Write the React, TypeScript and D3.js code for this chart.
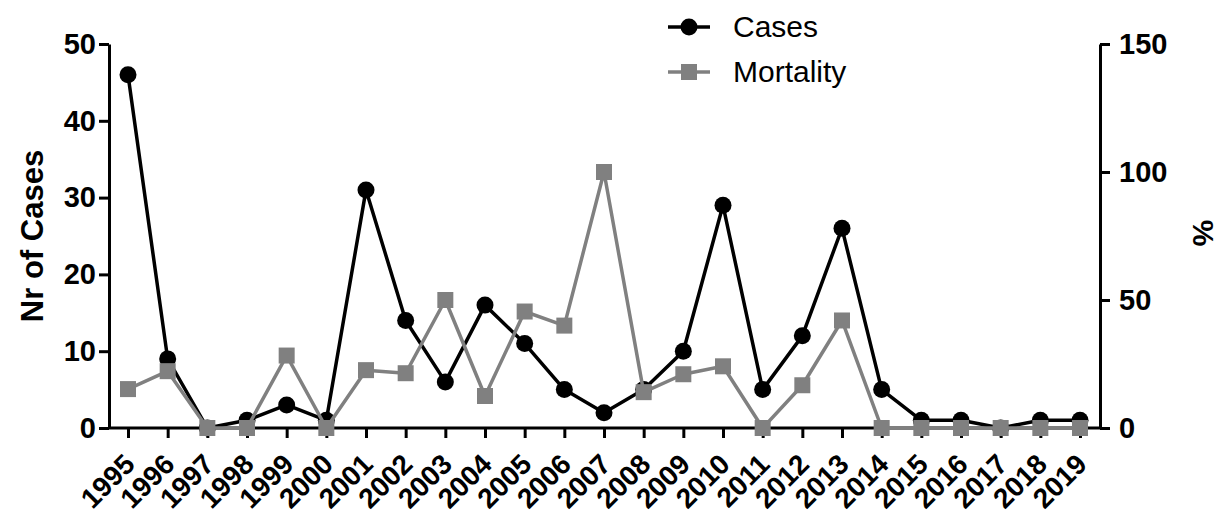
import React, { useEffect, useRef } from 'react';
import { select, scalePoint, scaleLinear, line, axisLeft, axisRight, axisBottom } from 'd3';

const years = ['1995', '1996', '1997', '1998', '1999', '2000', '2001', '2002', '2003', '2004', '2005', '2006', '2007',
  '2008', '2009', '2010', '2011', '2012', '2013', '2014', '2015', '2016', '2017', '2018', '2019'];
const cases = [46, 9, 0, 1, 3, 1, 31, 14, 6, 16, 11, 5, 2, 5, 10, 29, 5, 12, 26, 5, 1, 1, 0, 1, 1];
const mortality = [15.2, 22.2, 0, 0, 28.3, 0, 22.6, 21.4, 50, 12.5, 45.5, 40, 100, 14, 21, 24.1, 0, 16.7, 42, 0, 0, 0, 0, 0, 0];
const leftTicks = [0, 10, 20, 30, 40, 50];
const rightTicks = [0, 50, 100, 150];

const FONT = '"Liberation Sans", Arial, sans-serif';

const App = () => {
  const svgRef = useRef(null);

  useEffect(() => {
    document.body.style.margin = '0';
    const width = 1230;
    const height = 519;
    const left = 109, right = 1100, top = 44, bottom = 428;

    const svg = select(svgRef.current);
    svg.selectAll('*').remove();
    svg.attr('width', width).attr('height', height).style('font-family', FONT);

    const x = scalePoint().domain(years).range([128, 1080]);
    const yL = scaleLinear().domain([0, 50]).range([bottom, top]);
    const yR = scaleLinear().domain([0, 150]).range([bottom, top]);

    // axes
    const styleAxis = (g) => {
      g.select('.domain').attr('stroke', '#000').attr('stroke-width', 3);
      g.selectAll('.tick line').attr('stroke', '#000').attr('stroke-width', 3);
      g.selectAll('.tick text')
        .attr('fill', '#000')
        .style('font-size', '29px')
        .style('font-weight', 'bold')
        .style('font-family', FONT);
    };

    const gl = svg.append('g').attr('transform', `translate(${left},0)`)
      .call(axisLeft(yL).tickValues(leftTicks).tickSize(10).tickSizeOuter(0).tickPadding(3));
    styleAxis(gl);

    const gr = svg.append('g').attr('transform', `translate(${right},0)`)
      .call(axisRight(yR).tickValues(rightTicks).tickSize(10).tickSizeOuter(0).tickPadding(9));
    styleAxis(gr);

    const gb = svg.append('g').attr('transform', `translate(0,${bottom})`)
      .call(axisBottom(x).tickSize(10).tickSizeOuter(0));
    gb.select('.domain').remove();
    gb.selectAll('.tick line').attr('stroke', '#000').attr('stroke-width', 3);
    gb.selectAll('.tick text')
      .attr('fill', '#000')
      .style('font-size', '28px')
      .style('font-weight', 'bold')
      .style('font-family', FONT)
      .attr('text-anchor', 'end')
      .attr('x', 0)
      .attr('y', 0)
      .attr('dy', '0')
      .attr('transform', 'translate(8,38) rotate(-45)');
    svg.append('line')
      .attr('x1', left).attr('x2', right)
      .attr('y1', bottom).attr('y2', bottom)
      .attr('stroke', '#000').attr('stroke-width', 3);

    // axis titles
    svg.append('text')
      .attr('transform', `translate(43,236) rotate(-90)`)
      .attr('text-anchor', 'middle')
      .style('font-size', '31px')
      .style('font-weight', 'bold')
      .text('Nr of Cases');
    svg.append('text')
      .attr('transform', `translate(1193,233) rotate(90)`)
      .attr('text-anchor', 'middle')
      .style('font-size', '30px')
      .style('font-weight', 'bold')
      .text('%');

    // series
    const casesLine = line().x((d, i) => x(years[i])).y(d => yL(d));
    const mortLine = line().x((d, i) => x(years[i])).y(d => yR(d));

    svg.append('path').attr('d', casesLine(cases))
      .attr('fill', 'none').attr('stroke', '#000').attr('stroke-width', 3.5).attr('stroke-linejoin', 'round');
    svg.selectAll('circle.cases').data(cases).enter().append('circle')
      .attr('class', 'cases')
      .attr('cx', (d, i) => x(years[i])).attr('cy', d => yL(d)).attr('r', 8.5).attr('fill', '#000');

    svg.append('path').attr('d', mortLine(mortality))
      .attr('fill', 'none').attr('stroke', '#808080').attr('stroke-width', 3.5).attr('stroke-linejoin', 'round');
    svg.selectAll('rect.mort').data(mortality).enter().append('rect')
      .attr('class', 'mort')
      .attr('x', (d, i) => x(years[i]) - 8).attr('y', d => yR(d) - 8)
      .attr('width', 16).attr('height', 16).attr('fill', '#808080');

    // legend
    const legend = svg.append('g');
    const items = [
      { label: 'Cases', color: '#000', shape: 'circle', y: 27 },
      { label: 'Mortality', color: '#808080', shape: 'square', y: 72 },
    ];
    items.forEach(it => {
      legend.append('line').attr('x1', 668).attr('x2', 710).attr('y1', it.y).attr('y2', it.y)
        .attr('stroke', it.color).attr('stroke-width', 3.5);
      if (it.shape === 'circle') {
        legend.append('circle').attr('cx', 689).attr('cy', it.y).attr('r', 8.5).attr('fill', it.color);
      } else {
        legend.append('rect').attr('x', 681).attr('y', it.y - 8).attr('width', 16).attr('height', 16).attr('fill', it.color);
      }
      legend.append('text').attr('x', 733).attr('y', it.y + 10)
        .style('font-size', '30px')
        .text(it.label);
    });
  }, []);

  return <svg ref={svgRef}></svg>;
};

export default App;
